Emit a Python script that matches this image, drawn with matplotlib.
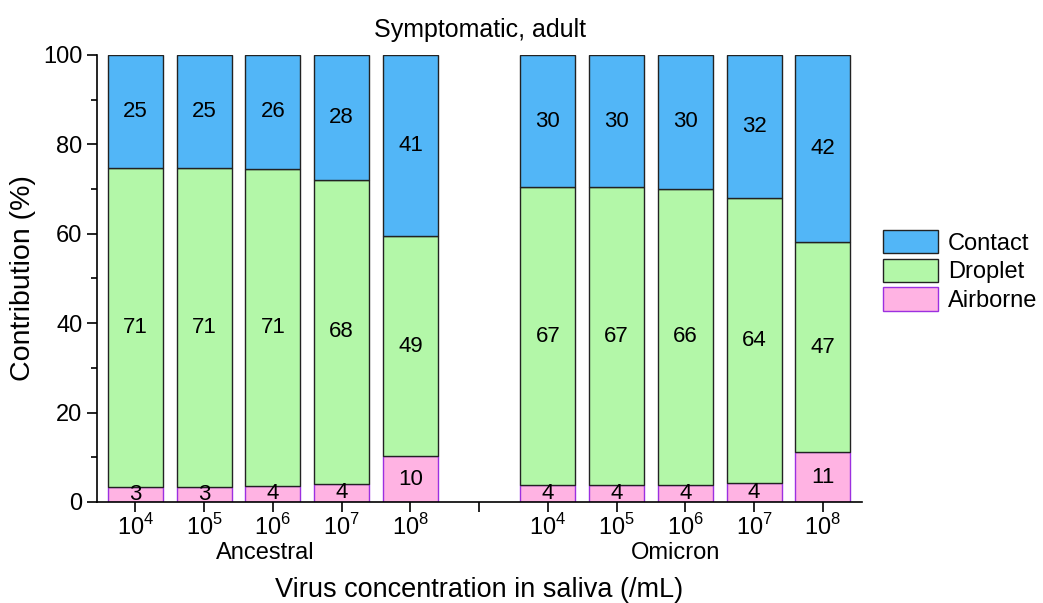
import numpy as np
import matplotlib
matplotlib.use('Agg')
import matplotlib.pyplot as plt

plt.rcParams['font.family'] = ['Liberation Sans', 'DejaVu Sans']
plt.rcParams['mathtext.fontset'] = 'custom'
plt.rcParams['mathtext.rm'] = 'Liberation Sans'

# data (percent contribution)
tick_labels = ['$10^4$', '$10^5$', '$10^6$', '$10^7$', '$10^8$']
groups = ['Ancestral', 'Omicron']
airborne = [3.4, 3.4, 3.6, 4.1, 10.2, 3.7, 3.7, 3.8, 4.3, 11.1]
droplet = [71.3, 71.3, 70.9, 67.9, 49.2, 66.7, 66.7, 66.3, 63.7, 47.1]
contact = [25.3, 25.3, 25.5, 28.0, 40.6, 29.6, 29.6, 29.9, 32.0, 41.8]

x = np.array([0, 1, 2, 3, 4, 6, 7, 8, 9, 10])
airborne = np.array(airborne)
droplet = np.array(droplet)
contact = np.array(contact)

fig = plt.figure(figsize=(10.43, 6.03), dpi=100)
ax = fig.add_axes([0.093, 0.1675, 0.7335, 0.7413])

w = 0.8
b1 = ax.bar(x, airborne, w, color='#ffb3e3', edgecolor='#9b30e0', linewidth=1, label='Airborne')
b2 = ax.bar(x, droplet, w, bottom=airborne, color='#b3f7a8', edgecolor='#222222', linewidth=1, label='Droplet')
b3 = ax.bar(x, contact, w, bottom=airborne + droplet, color='#52b6f7', edgecolor='#222222', linewidth=1, label='Contact')

for xi, a, d, c in zip(x, airborne, droplet, contact):
    ax.text(xi, a / 2, str(int(round(a))), ha='center', va='center', fontsize=16)
    ax.text(xi, a + d / 2, str(int(round(d))), ha='center', va='center', fontsize=16)
    ax.text(xi, a + d + c / 2, str(int(round(c))), ha='center', va='center', fontsize=16)

ax.set_xlim(-0.56, 10.57)
ax.set_ylim(0, 100)
ax.set_xticks([0, 1, 2, 3, 4, 5, 6, 7, 8, 9, 10])
ax.set_xticklabels(tick_labels + [''] + tick_labels)
ax.set_yticks([0, 20, 40, 60, 80, 100])
ax.set_yticks([10, 30, 50, 70, 90], minor=True)
ax.tick_params(axis='both', labelsize=17, width=1.2, length=7, direction='out')
ax.tick_params(axis='x', pad=2)
ax.tick_params(axis='y', which='minor', length=4, width=1.2)
ax.spines['top'].set_visible(False)
ax.spines['right'].set_visible(False)
ax.spines['left'].set_linewidth(1.2)
ax.spines['bottom'].set_linewidth(1.2)

ax.text(1.89, -11.5, groups[0], ha='center', va='center', fontsize=17)
ax.text(7.86, -11.5, groups[1], ha='center', va='center', fontsize=17)
ax.set_xlabel('Virus concentration in saliva (/mL)', fontsize=19.5, labelpad=26)
ax.set_ylabel('Contribution (%)', fontsize=20.5, labelpad=5)
ax.set_title('Symptomatic, adult', fontsize=18, pad=13)

ax.legend(handles=[b3, b2, b1], loc='center left', bbox_to_anchor=(1.027, 0.517), frameon=False,
          fontsize=17, handlelength=2.35, handleheight=1.15, handletextpad=0.4, labelspacing=0.17,
          borderaxespad=0, borderpad=0)

fig.savefig('out.png', dpi=100)
